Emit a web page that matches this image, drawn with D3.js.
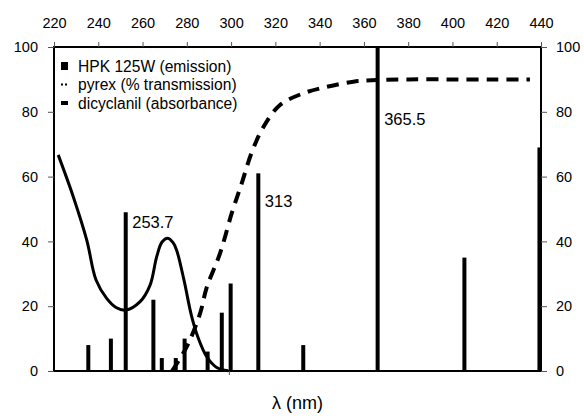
<!DOCTYPE html>
<html>
<head>
<meta charset="utf-8">
<script src="https://cdn.jsdelivr.net/npm/d3@7"></script>
<style>
  body { margin: 0; background: #fff; }
  svg { font-family: "Liberation Sans", Arial, sans-serif; }
</style>
</head>
<body>
<script>
// Hg lamp emission lines (wavelength in nm, relative intensity)
var lineNm = [235.5, 245.7, 252.4, 264.9, 268.7, 275.0, 279.0, 289.4, 295.8, 299.8, 312.3, 332.6, 366.2, 405.4, 439.3];
var lineInt = [8, 10, 49, 22, 4, 4, 10, 6, 18, 27, 61, 8, 100, 35, 69];

// solid curve
var absNm = [221.9, 228.7, 234.8, 239, 243.8, 248, 252.4, 258.9, 263.4, 266.4, 268.8, 271.4, 273.8, 275.4, 278.7, 282.2, 285.2, 289.0, 293.5, 298.7];
var absVal = [66.7, 53.8, 40.4, 28.1, 22.4, 19.6, 18.8, 21.4, 26.5, 35.3, 39.8, 41, 39.6, 37.3, 28.1, 16.8, 10.1, 4.4, 1.1, 0.1];

// dashed curve
var transNm = [273.3, 280, 286, 289, 295, 300.3, 304.8, 309.4, 314.6, 322.1, 332.6, 343.2, 355.2, 365.8, 380, 400, 420, 435];
var transVal = [0, 7.5, 17.8, 25.8, 36.3, 48.7, 57.9, 67.6, 75.3, 82.1, 85.7, 87.7, 89.3, 89.8, 90, 90, 90, 90];

var topTicks = [220, 240, 260, 280, 300, 320, 340, 360, 380, 400, 420, 440];
var yTicks = [0, 20, 40, 60, 80, 100];

var annoIdx = [2, 10, 12];
var annoText = ["253.7", "313", "365.5"];
var annoVal = [44.1, 50.6, 75.9];

var legendText = ["HPK 125W (emission)", "pyrex (% transmission)", "dicyclanil (absorbance)"];

var W = 584, H = 416;
var pL = 54, pR = 541, pT = 47, pB = 371;

var svg = d3.select("body").append("svg")
    .attr("width", W)
    .attr("height", H);

var x = d3.scaleLinear().domain([220, 440]).range([pL, pR]);
var y = d3.scaleLinear().domain([0, 100]).range([pB, pT]);

// bars
svg.selectAll("rect.bar")
    .data(lineNm)
    .enter()
    .append("rect")
    .attr("class", "bar")
    .attr("x", function(d) { return x(d) - 2; })
    .attr("width", 4)
    .attr("y", function(d, i) { return y(lineInt[i]); })
    .attr("height", function(d, i) { return y(0) - y(lineInt[i]); })
    .attr("fill", "#000");

var curve = d3.line()
    .x(function(d) { return x(d[0]); })
    .y(function(d) { return y(d[1]); })
    .curve(d3.curveCatmullRom);

svg.append("path")
    .datum(absNm.map(function(d, i) { return [d, absVal[i]]; }))
    .attr("d", curve)
    .attr("fill", "none")
    .attr("stroke", "#000")
    .attr("stroke-width", 3);

svg.append("path")
    .datum(transNm.map(function(d, i) { return [d, transVal[i]]; }))
    .attr("d", curve)
    .attr("fill", "none")
    .attr("stroke", "#000")
    .attr("stroke-width", 4)
    .attr("stroke-dasharray", "12,8");

// frame
svg.append("rect")
    .attr("x", pL).attr("y", pT)
    .attr("width", pR - pL).attr("height", pB - pT)
    .attr("fill", "none")
    .attr("stroke", "#000")
    .attr("stroke-width", 2);

// axes
var gTop = svg.append("g")
    .attr("transform", "translate(0," + pT + ")")
    .call(d3.axisTop(x).tickValues(topTicks).tickSize(5).tickPadding(14));
var gLeft = svg.append("g")
    .attr("transform", "translate(" + pL + ",0)")
    .call(d3.axisLeft(y).tickValues(yTicks).tickSize(6).tickPadding(10));
var gRight = svg.append("g")
    .attr("transform", "translate(" + pR + ",0)")
    .call(d3.axisRight(y).tickValues(yTicks).tickSize(6).tickPadding(9));
var gBottom = svg.append("g")
    .attr("transform", "translate(0," + pB + ")")
    .call(d3.axisBottom(x).tickValues([299]).tickSize(4).tickFormat(""));

[gTop, gLeft, gRight, gBottom].forEach(function(g) {
    g.select(".domain").remove();
    g.selectAll(".tick line").attr("stroke", "#555");
    g.selectAll(".tick text")
        .attr("font-size", 14.5)
        .attr("font-family", "Liberation Sans, Arial, sans-serif")
        .attr("fill", "#000");
});

// annotations
svg.selectAll("text.anno")
    .data(annoText)
    .enter()
    .append("text")
    .attr("class", "anno")
    .attr("x", function(d, i) { return x(lineNm[annoIdx[i]]) + 6.5; })
    .attr("y", function(d, i) { return y(annoVal[i]); })
    .attr("font-size", 16.5)
    .text(function(d) { return d; });

// legend
var leg = svg.append("g");
var legY = [66, 84.5, 103];
leg.append("rect").attr("x", 61).attr("y", legY[0] - 4).attr("width", 7).attr("height", 8).attr("fill", "#000");
leg.append("line").attr("x1", 61).attr("x2", 67).attr("y1", legY[1]).attr("y2", legY[1])
    .attr("stroke", "#000").attr("stroke-width", 2).attr("stroke-dasharray", "2,2");
leg.append("line").attr("x1", 61).attr("x2", 68).attr("y1", legY[2]).attr("y2", legY[2])
    .attr("stroke", "#000").attr("stroke-width", 4);
leg.selectAll("text.leg")
    .data(legendText)
    .enter()
    .append("text")
    .attr("class", "leg")
    .attr("x", 78)
    .attr("y", function(d, i) { return legY[i] + 5.5; })
    .attr("font-size", 15.6)
    .text(function(d) { return d; });

// x title
svg.append("text")
    .attr("x", (pL + pR) / 2)
    .attr("y", 409)
    .attr("text-anchor", "middle")
    .attr("font-size", 18)
    .text("λ (nm)");
</script>
</body>
</html>
